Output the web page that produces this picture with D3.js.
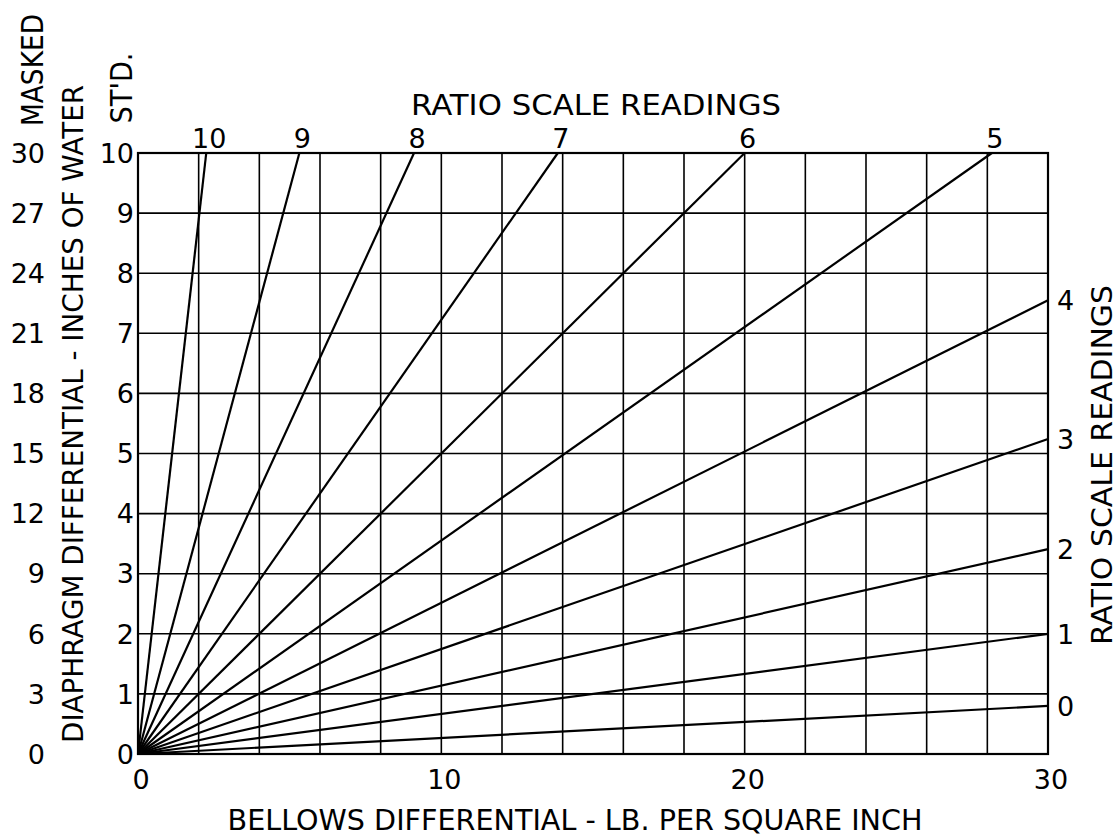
<!DOCTYPE html>
<html>
<head>
<meta charset="utf-8">
<script src="https://cdn.jsdelivr.net/npm/d3@7"></script>
<style>
  body { margin: 0; background: #fff; }
  text { font-family: "DejaVu Sans", sans-serif; fill: #000; }
</style>
</head>
<body>
<svg id="chart" width="1120" height="838"></svg>
<script>
// bellows differential (x) ticks, diaphragm scales (y)
const xLabels = [0, 10, 20, 30];
const stdLabels = [0, 1, 2, 3, 4, 5, 6, 7, 8, 9, 10];
const maskedLabels = [0, 3, 6, 9, 12, 15, 18, 21, 24, 27, 30];

// ratio lines leaving through the top edge: where they meet std = 10
const topRatio = [10, 9, 8, 7, 6, 5];
const topEndX = [2.25, 5.32, 9.1, 13.84, 20.0, 28.15];

// ratio lines leaving through the right edge: std value at bellows = 30
const rightRatio = [4, 3, 2, 1, 0];
const rightEndY = [7.55, 5.24, 3.41, 2.0, 0.8];

const svg = d3.select("#chart");

let x = d3.scaleLinear().domain([0, 30]).range([138, 1048]);
let y = d3.scaleLinear().domain([0, 10]).range([754, 153]);

// grid
let grid = svg.append("g").attr("stroke", "#000");
grid.selectAll(".vgrid")
    .data(x.ticks(15))
    .join("line")
    .attr("x1", d => x(d)).attr("x2", d => x(d))
    .attr("y1", y(0)).attr("y2", y(10))
    .attr("stroke-width", 1.6);
grid.selectAll(".hgrid")
    .data(y.ticks(10))
    .join("line")
    .attr("x1", x(0)).attr("x2", x(30))
    .attr("y1", d => y(d)).attr("y2", d => y(d))
    .attr("stroke-width", 1.6);

svg.append("rect")
    .attr("x", x(0)).attr("y", y(10))
    .attr("width", x(30) - x(0)).attr("height", y(0) - y(10))
    .attr("fill", "none").attr("stroke", "#000").attr("stroke-width", 2.2);

// ratio lines from the origin
let line = d3.line().x(d => x(d[0])).y(d => y(d[1]));
let rays = topEndX.map(v => [[0, 0], [v, 10]])
    .concat(rightEndY.map(v => [[0, 0], [30, v]]));

svg.append("g").selectAll("path")
    .data(rays)
    .join("path")
    .attr("d", line)
    .attr("fill", "none")
    .attr("stroke", "#000")
    .attr("stroke-width", 2.2);

// tick labels
svg.append("g").selectAll("text")
    .data(xLabels)
    .join("text")
    .attr("x", d => x(d) + 3)
    .attr("y", 789)
    .attr("text-anchor", "middle")
    .attr("font-size", 27)
    .text(d => d);

svg.append("g").selectAll("text")
    .data(stdLabels)
    .join("text")
    .attr("x", 134)
    .attr("y", d => y(d))
    .attr("dy", "0.36em")
    .attr("text-anchor", "end")
    .attr("font-size", 27)
    .text(d => d);

svg.append("g").selectAll("text")
    .data(maskedLabels)
    .join("text")
    .attr("x", 45)
    .attr("y", (d, i) => y(stdLabels[i]))
    .attr("dy", "0.36em")
    .attr("text-anchor", "end")
    .attr("font-size", 27)
    .text(d => d);

svg.append("g").selectAll("text")
    .data(topRatio)
    .join("text")
    .attr("x", (d, i) => x(topEndX[i]) + 3)
    .attr("y", 148)
    .attr("text-anchor", "middle")
    .attr("font-size", 27)
    .text(d => d);

svg.append("g").selectAll("text")
    .data(rightRatio)
    .join("text")
    .attr("x", 1057)
    .attr("y", (d, i) => y(rightEndY[i]))
    .attr("dy", "0.36em")
    .attr("font-size", 27)
    .text(d => d);

// titles
function title(txt, tx, ty, len, rot, size) {
  svg.append("text")
      .attr("transform", `translate(${tx},${ty}) rotate(${rot})`)
      .attr("text-anchor", "middle")
      .attr("font-size", size)
      .attr("textLength", len)
      .attr("lengthAdjust", "spacingAndGlyphs")
      .text(txt);
}

title("RATIO SCALE READINGS", 596, 115, 370, 0, 29);
title("BELLOWS DIFFERENTIAL - LB. PER SQUARE INCH", 575, 830, 695, 0, 29);
title("DIAPHRAGM DIFFERENTIAL - INCHES OF WATER", 83, 414, 658, -90, 29);
title("RATIO SCALE READINGS", 1112, 465, 360, -90, 28);
title("MASKED", 43, 70, 112, -90, 30);
title("ST'D.", 132, 88, 71, -90, 31);
</script>
</body>
</html>
